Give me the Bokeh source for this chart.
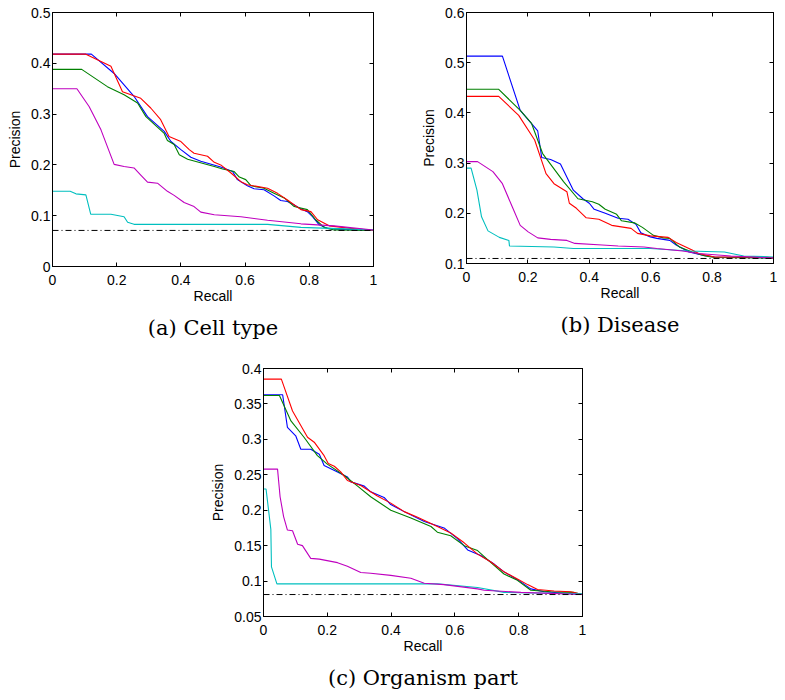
from bokeh.plotting import figure
from bokeh.models import Range1d, FixedTicker, LinearAxis, Span, Spacer
from bokeh.layouts import column, row
from bokeh.embed import file_html
from bokeh.resources import INLINE

# ---------------- data ----------------
x_ticks = [0, 0.2, 0.4, 0.6, 0.8, 1.0]
x_tick_labels = ["0", "0.2", "0.4", "0.6", "0.8", "1"]

# (a) Cell type
cell_y_ticks = [0, 0.1, 0.2, 0.3, 0.4, 0.5]
cell_y_labels = ["0", "0.1", "0.2", "0.3", "0.4", "0.5"]
cell_baseline = 0.071
cell_blue_r = [0, 0.121, 0.192, 0.254, 0.296, 0.348, 0.369, 0.4, 0.431, 0.462, 0.524, 0.561, 0.576, 0.607, 0.628, 0.659, 0.69, 0.711, 0.732, 0.753, 0.774, 0.794, 0.81, 0.831, 0.857, 0.909, 1.0]
cell_blue_p = [0.418, 0.418, 0.38, 0.335, 0.295, 0.266, 0.246, 0.23, 0.215, 0.207, 0.196, 0.187, 0.171, 0.159, 0.153, 0.151, 0.139, 0.13, 0.128, 0.121, 0.113, 0.108, 0.098, 0.082, 0.075, 0.073, 0.071]
cell_green_r = [0, 0.091, 0.171, 0.223, 0.265, 0.291, 0.348, 0.358, 0.379, 0.395, 0.421, 0.504, 0.53, 0.566, 0.582, 0.602, 0.618, 0.659, 0.69, 0.722, 0.753, 0.794, 0.82, 0.846, 0.877, 1.0]
cell_green_p = [0.388, 0.388, 0.354, 0.338, 0.322, 0.295, 0.262, 0.248, 0.24, 0.22, 0.211, 0.197, 0.192, 0.187, 0.176, 0.171, 0.159, 0.154, 0.144, 0.135, 0.118, 0.112, 0.092, 0.077, 0.072, 0.071]
cell_red_r = [0, 0.104, 0.182, 0.218, 0.275, 0.306, 0.337, 0.363, 0.4, 0.426, 0.441, 0.483, 0.504, 0.524, 0.556, 0.587, 0.607, 0.67, 0.701, 0.732, 0.774, 0.805, 0.826, 0.862, 0.929, 1.0]
cell_red_p = [0.418, 0.418, 0.394, 0.344, 0.331, 0.312, 0.289, 0.256, 0.246, 0.23, 0.223, 0.217, 0.205, 0.2, 0.184, 0.167, 0.161, 0.154, 0.144, 0.131, 0.112, 0.108, 0.092, 0.08, 0.075, 0.071]
cell_cyan_r = [0, 0.055, 0.073, 0.104, 0.119, 0.182, 0.223, 0.234, 0.254, 0.67, 0.774, 1.0]
cell_cyan_p = [0.148, 0.148, 0.143, 0.141, 0.103, 0.103, 0.098, 0.087, 0.083, 0.083, 0.077, 0.072]
cell_magenta_r = [0, 0.076, 0.114, 0.151, 0.192, 0.223, 0.254, 0.275, 0.296, 0.327, 0.358, 0.379, 0.41, 0.441, 0.462, 0.504, 0.587, 0.67, 0.774, 0.877, 1.0]
cell_magenta_p = [0.35, 0.35, 0.315, 0.269, 0.201, 0.197, 0.194, 0.18, 0.166, 0.164, 0.148, 0.14, 0.126, 0.118, 0.107, 0.102, 0.098, 0.091, 0.084, 0.08, 0.072]

# (b) Disease
dis_y_ticks = [0.1, 0.2, 0.3, 0.4, 0.5, 0.6]
dis_y_labels = ["0.1", "0.2", "0.3", "0.4", "0.5", "0.6"]
dis_baseline = 0.11
dis_blue_r = [0, 0.117, 0.175, 0.232, 0.245, 0.274, 0.306, 0.332, 0.348, 0.379, 0.4, 0.416, 0.452, 0.494, 0.526, 0.552, 0.568, 0.599, 0.62, 0.662, 0.683, 0.725, 0.766, 0.808, 1.0]
dis_blue_p = [0.513, 0.513, 0.405, 0.364, 0.311, 0.307, 0.298, 0.266, 0.246, 0.229, 0.22, 0.208, 0.2, 0.19, 0.188, 0.178, 0.161, 0.153, 0.15, 0.146, 0.137, 0.123, 0.117, 0.113, 0.111]
dis_green_r = [0, 0.105, 0.175, 0.212, 0.248, 0.316, 0.363, 0.41, 0.431, 0.452, 0.489, 0.505, 0.547, 0.573, 0.609, 0.641, 0.662, 0.693, 0.735, 0.777, 0.808, 1.0]
dis_green_p = [0.447, 0.447, 0.405, 0.379, 0.319, 0.263, 0.229, 0.223, 0.218, 0.208, 0.198, 0.185, 0.181, 0.172, 0.156, 0.151, 0.15, 0.133, 0.123, 0.115, 0.112, 0.111]
dis_red_r = [0, 0.105, 0.17, 0.222, 0.259, 0.285, 0.327, 0.335, 0.358, 0.39, 0.431, 0.473, 0.536, 0.557, 0.599, 0.657, 0.683, 0.735, 0.756, 0.808, 0.976, 1.0]
dis_red_p = [0.433, 0.433, 0.395, 0.346, 0.279, 0.259, 0.243, 0.22, 0.21, 0.191, 0.188, 0.176, 0.17, 0.16, 0.155, 0.152, 0.142, 0.127, 0.12, 0.113, 0.113, 0.111]
dis_cyan_r = [0, 0.015, 0.034, 0.049, 0.07, 0.107, 0.138, 0.14, 0.285, 0.348, 0.599, 0.725, 0.84, 0.903, 1.0]
dis_cyan_p = [0.29, 0.29, 0.246, 0.193, 0.165, 0.152, 0.146, 0.135, 0.133, 0.13, 0.13, 0.125, 0.123, 0.115, 0.113]
dis_magenta_r = [0, 0.036, 0.086, 0.117, 0.149, 0.175, 0.201, 0.232, 0.274, 0.327, 0.353, 0.442, 0.494, 0.578, 0.62, 0.704, 0.756, 0.861, 1.0]
dis_magenta_p = [0.303, 0.303, 0.283, 0.259, 0.213, 0.176, 0.163, 0.151, 0.148, 0.146, 0.14, 0.137, 0.135, 0.133, 0.13, 0.125, 0.12, 0.115, 0.111]

# (c) Organism part
org_y_ticks = [0.05, 0.1, 0.15, 0.2, 0.25, 0.3, 0.35, 0.4]
org_y_labels = ["0.05", "0.1", "0.15", "0.2", "0.25", "0.3", "0.35", "0.4"]
org_baseline = 0.081
org_blue_r = [0, 0.06, 0.075, 0.101, 0.117, 0.148, 0.175, 0.19, 0.232, 0.263, 0.274, 0.316, 0.336, 0.378, 0.399, 0.441, 0.504, 0.566, 0.608, 0.64, 0.681, 0.723, 0.754, 0.796, 0.838, 0.88, 1.0]
org_blue_p = [0.363, 0.363, 0.317, 0.305, 0.286, 0.286, 0.279, 0.263, 0.254, 0.247, 0.24, 0.234, 0.226, 0.218, 0.208, 0.198, 0.184, 0.175, 0.16, 0.144, 0.136, 0.124, 0.113, 0.102, 0.089, 0.085, 0.081]
org_green_r = [0, 0.05, 0.086, 0.127, 0.169, 0.2, 0.253, 0.295, 0.336, 0.399, 0.462, 0.525, 0.545, 0.587, 0.629, 0.671, 0.713, 0.754, 0.796, 0.838, 0.9, 0.974, 1.0]
org_green_p = [0.362, 0.362, 0.326, 0.303, 0.277, 0.265, 0.249, 0.234, 0.219, 0.2, 0.189, 0.177, 0.169, 0.164, 0.15, 0.143, 0.126, 0.11, 0.101, 0.087, 0.085, 0.084, 0.081]
org_red_r = [0, 0.056, 0.091, 0.138, 0.159, 0.19, 0.203, 0.222, 0.242, 0.263, 0.305, 0.357, 0.399, 0.441, 0.483, 0.545, 0.587, 0.629, 0.671, 0.713, 0.754, 0.796, 0.828, 0.859, 0.911, 0.963, 1.0]
org_red_p = [0.385, 0.385, 0.34, 0.303, 0.296, 0.277, 0.266, 0.262, 0.254, 0.242, 0.235, 0.22, 0.21, 0.198, 0.19, 0.177, 0.168, 0.154, 0.138, 0.127, 0.113, 0.103, 0.095, 0.088, 0.086, 0.085, 0.081]
org_cyan_r = [0, 0.008, 0.023, 0.025, 0.042, 0.545, 0.671, 0.754, 1.0]
org_cyan_p = [0.23, 0.23, 0.173, 0.12, 0.096, 0.096, 0.091, 0.084, 0.082]
org_magenta_r = [0, 0.044, 0.052, 0.063, 0.075, 0.091, 0.107, 0.122, 0.148, 0.175, 0.232, 0.263, 0.305, 0.336, 0.399, 0.462, 0.504, 0.566, 0.671, 0.692, 0.807, 1.0]
org_magenta_p = [0.258, 0.258, 0.219, 0.191, 0.172, 0.171, 0.152, 0.15, 0.132, 0.131, 0.126, 0.121, 0.112, 0.111, 0.108, 0.104, 0.097, 0.095, 0.089, 0.087, 0.084, 0.081]

COL_BLUE = "#0000FF"
COL_GREEN = "#008000"
COL_RED = "#FF0000"
COL_CYAN = "#00BFBF"
COL_MAGENTA = "#BF00BF"

TICK_FONT = "Liberation Sans"
CAP_FONT = "DejaVu Serif"


def make_panel(caption, y_range, y_ticks, y_labels, series, baseline,
               fw, fh, bl, br, bt, bb, cap_offset=0):
    p = figure(frame_width=fw, frame_height=fh,
               x_range=Range1d(0, 1), y_range=Range1d(*y_range),
               output_backend="svg", toolbar_location=None,
               title=caption, title_location="below",
               min_border_left=bl, min_border_right=br,
               min_border_top=bt, min_border_bottom=bb,
               background_fill_color="white", border_fill_color="white")
    p.grid.visible = False
    p.outline_line_color = "black"
    p.outline_line_width = 1

    # main axes
    p.xaxis.ticker = FixedTicker(ticks=x_ticks)
    p.xaxis.major_label_overrides = dict(zip(x_ticks, x_tick_labels))
    p.yaxis.ticker = FixedTicker(ticks=y_ticks)
    p.yaxis.major_label_overrides = dict(zip(y_ticks, y_labels))
    p.xaxis.axis_label = "Recall"
    p.yaxis.axis_label = "Precision"
    for ax in (p.xaxis[0], p.yaxis[0]):
        ax.major_tick_in = 4
        ax.major_tick_out = 0
        ax.minor_tick_line_color = None
        ax.axis_line_color = "black"
        ax.major_tick_line_color = "black"
        ax.major_label_text_font = TICK_FONT
        ax.major_label_text_font_size = "14px"
        ax.major_label_text_color = "black"
        ax.axis_label_text_font = TICK_FONT
        ax.axis_label_text_font_size = "14px"
        ax.axis_label_text_font_style = "normal"
        ax.axis_label_text_color = "black"
    p.xaxis.major_label_standoff = 8
    p.xaxis.axis_label_standoff = 0
    p.yaxis.major_label_standoff = 2
    p.yaxis.axis_label_standoff = 5

    # mirrored ticks on top / right (no labels)
    for loc, ticks in (("above", x_ticks), ("right", y_ticks)):
        ax = LinearAxis(ticker=FixedTicker(ticks=ticks),
                        major_label_text_font_size="0px",
                        major_label_text_color=None,
                        major_label_standoff=0,
                        major_tick_in=4, major_tick_out=0,
                        minor_tick_line_color=None,
                        axis_line_color="black")
        p.add_layout(ax, loc)

    p.add_layout(Span(location=baseline, dimension="width",
                      line_color="black", line_width=1, line_dash="6 3 1 3"))

    for rr, pp, col in series:
        p.line(rr, pp, line_color=col, line_width=1.1)

    p.title.align = "center"
    p.title.text_font = CAP_FONT
    p.title.text_font_size = "21px"
    p.title.text_font_style = "normal"
    p.title.text_color = "black"
    p.title.standoff = 15
    p.title.offset = cap_offset
    return p


fa = make_panel("(a) Cell type", (0, 0.5), cell_y_ticks, cell_y_labels,
                [(cell_blue_r, cell_blue_p, COL_BLUE),
                 (cell_green_r, cell_green_p, COL_GREEN),
                 (cell_red_r, cell_red_p, COL_RED),
                 (cell_cyan_r, cell_cyan_p, COL_CYAN),
                 (cell_magenta_r, cell_magenta_p, COL_MAGENTA)],
                cell_baseline, fw=321, fh=254, bl=52, br=27, bt=9, bb=87,
                cap_offset=-7)

fb = make_panel("(b) Disease", (0.1, 0.6), dis_y_ticks, dis_y_labels,
                [(dis_blue_r, dis_blue_p, COL_BLUE),
                 (dis_green_r, dis_green_p, COL_GREEN),
                 (dis_red_r, dis_red_p, COL_RED),
                 (dis_cyan_r, dis_cyan_p, COL_CYAN),
                 (dis_magenta_r, dis_magenta_p, COL_MAGENTA)],
                dis_baseline, fw=307, fh=251, bl=66, br=4, bt=12, bb=87,
                cap_offset=-4)

fc = make_panel("(c) Organism part", (0.05, 0.4), org_y_ticks, org_y_labels,
                [(org_blue_r, org_blue_p, COL_BLUE),
                 (org_green_r, org_green_p, COL_GREEN),
                 (org_red_r, org_red_p, COL_RED),
                 (org_cyan_r, org_cyan_p, COL_CYAN),
                 (org_magenta_r, org_magenta_p, COL_MAGENTA)],
                org_baseline, fw=319, fh=248, bl=52, br=10, bt=18, bb=76)

layout = column(row(fa, fb), row(Spacer(width=207, height=10), fc))

open("out.html", "w").write(file_html(layout, INLINE))
